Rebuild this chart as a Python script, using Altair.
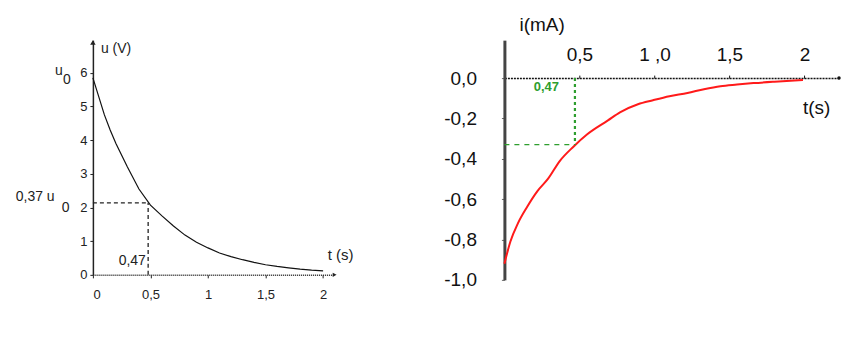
import altair as alt
import pandas as pd

FONT = "Liberation Sans"

# ---------- Left panel: u(V) vs t(s) ----------
t_u = [0.0, 0.05, 0.1, 0.15, 0.2, 0.3, 0.4, 0.5, 0.6, 0.7, 0.8, 0.9, 1.0,
       1.1, 1.2, 1.3, 1.4, 1.5, 1.6, 1.7, 1.8, 1.9, 2.0]
u_v = [5.85, 5.3, 4.75, 4.3, 3.9, 3.2, 2.55, 2.07, 1.75, 1.45, 1.18, 0.97, 0.8,
       0.65, 0.54, 0.45, 0.37, 0.30, 0.25, 0.21, 0.17, 0.14, 0.12]
left_x_ticks = [0, 0.5, 1, 1.5, 2]
left_y_ticks = [0, 1, 2, 3, 4, 5, 6]
tau_left = 0.48
u_tau = 2.14

# ---------- Right panel: i(mA) vs t(s) ----------
t_i = [0.0, 0.04, 0.09, 0.15, 0.22, 0.29, 0.37, 0.46, 0.55, 0.69, 0.77, 0.89,
       0.99, 1.1, 1.22, 1.33, 1.44, 1.55, 1.66, 1.8, 1.99]
i_ma = [-0.92, -0.81, -0.72, -0.64, -0.56, -0.50, -0.41, -0.34, -0.28, -0.21,
        -0.17, -0.13, -0.11, -0.09, -0.074, -0.055, -0.04, -0.032, -0.025,
        -0.018, -0.01]
right_x_ticks = [0.5, 1, 1.5, 2]
right_x_labels = ["0,5", "1 ,0", "1,5", "2"]
right_y_ticks = [0, -0.2, -0.4, -0.6, -0.8, -1.0]
tau_right = 0.47
i_tau = -0.33


def pt_df(x, y, text=""):
    return pd.DataFrame({"x": [x], "y": [y], "text": [text]})


def seg(x0, x1, y0, y1, color, dash, width):
    df = pd.DataFrame({"x": [x0], "x2": [x1], "y": [y0], "y2": [y1]})
    return alt.Chart(df).mark_rule(color=color, strokeDash=dash, strokeWidth=width).encode(
        x2="x2:Q", y2="y2:Q")


def text(x, y, s, size, align="left", color="#222", weight="normal"):
    return alt.Chart(pt_df(x, y, s)).mark_text(
        font=FONT, fontSize=size, align=align, baseline="middle",
        color=color, fontWeight=weight, clip=False).encode(text="text:N")


def marker(x, y, shape, size, color):
    return alt.Chart(pt_df(x, y)).mark_point(
        shape=shape, filled=True, color=color, size=size, opacity=1)


# ================= LEFT =================
xl = alt.Scale(domain=[0, 2.1], nice=False, zero=False)
yl = alt.Scale(domain=[0, 6.97], nice=False, zero=False)

df_u = pd.DataFrame({"x": t_u, "y": u_v})
curve_u = alt.Chart(df_u).mark_line(color="#111", strokeWidth=1.2, clip=False)

left = alt.layer(
    curve_u,
    seg(0, tau_left, u_tau, u_tau, "#222", [4, 3], 1.3),
    seg(tau_left, tau_left, 0, u_tau, "#222", [4, 3], 1.3),
    text(0.07, 6.7, "u (V)", 14),
    text(2.04, 0.6, "t (s)", 15),
    text(0.46, 0.42, "0,47", 14, align="right"),
    text(-0.67, 2.3, "0,37 u", 14),
    text(-0.27, 1.98, "0", 14),
    text(-0.33, 6.05, "u", 14),
    text(-0.26, 5.8, "0", 14),
    marker(0, 6.9, "triangle-up", 30, "#222"),
    marker(2.1, 0, "triangle-right", 20, "#222"),
).encode(
    x=alt.X("x:Q", scale=xl, axis=alt.Axis(
        values=left_x_ticks, title=None, grid=False,
        labelExpr="replace(toString(datum.value), '.', ',')",
        domainColor="#222", domainDash=[1, 1], domainWidth=1.5,
        tickColor="#222", tickSize=3, labelPadding=11,
        labelFont=FONT, labelFontSize=13, labelColor="#222")),
    y=alt.Y("y:Q", scale=yl, axis=alt.Axis(
        values=left_y_ticks, title=None, grid=False,
        domainColor="#222", domainWidth=1.5,
        tickColor="#222", tickSize=3, labelPadding=3,
        labelFont=FONT, labelFontSize=13, labelColor="#222")),
).properties(width=242, height=235)

# ================= RIGHT =================
xr = alt.Scale(domain=[0, 2.23], nice=False, zero=False)
yr = alt.Scale(domain=[-1.0, 0.188], nice=False, zero=False)

x_label_expr = " : ".join(
    f"datum.value == {v} ? '{s}'" for v, s in zip(right_x_ticks, right_x_labels)
) + " : ''"

df_i = pd.DataFrame({"x": t_i, "y": i_ma})
curve_i = alt.Chart(df_i).mark_line(color="#ff1a1a", strokeWidth=2,
                                     interpolate="monotone", clip=False)

right = alt.layer(
    curve_i,
    seg(tau_right, tau_right, 0, i_tau, "#2e9e2e", [3, 3], 2.2),
    seg(0, tau_right, i_tau, i_tau, "#2e9e2e", [5, 5], 1.3),
    text(0.1, 0.262, "i(mA)", 19, color="#111"),
    text(1.99, -0.15, "t(s)", 19, color="#111"),
    text(0.28, -0.045, "0,47", 13, align="center", color="#2e9e2e", weight="bold"),
    marker(2.23, 0, "circle", 12, "#111"),
).encode(
    x=alt.X("x:Q", scale=xr, axis=alt.Axis(
        orient="top", offset=-38, values=right_x_ticks, title=None, grid=False,
        labelExpr=x_label_expr,
        domainColor="#111", domainDash=[2, 1], domainWidth=1.5,
        tickColor="#111", tickSize=3, labelPadding=11,
        labelFont=FONT, labelFontSize=19, labelColor="#111")),
    y=alt.Y("y:Q", scale=yr, axis=alt.Axis(
        values=right_y_ticks, title=None, grid=False,
        labelExpr="replace(replace(format(datum.value, '.1f'), '.', ','), '\u2212', '-')",
        domainColor="#444", domainWidth=3,
        tickColor="#666", tickSize=3, labelPadding=25,
        labelFont=FONT, labelFontSize=19, labelColor="#111")),
).properties(width=335, height=240)

chart = alt.hconcat(left, right, spacing=170, bounds="flush").properties(
    padding={"left": 7, "top": 8, "right": 5, "bottom": 5}
).configure_view(stroke=None).configure_axis(grid=False)

chart.save("out.html", embed_options={"renderer": "svg", "actions": False})
